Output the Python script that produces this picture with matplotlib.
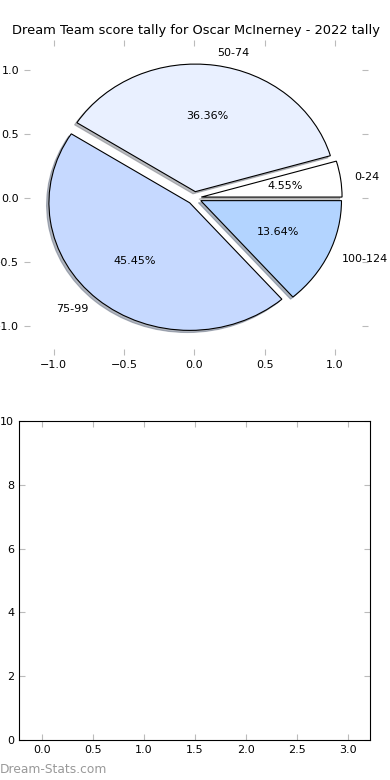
import matplotlib
matplotlib.use("Agg")
import matplotlib.pyplot as plt

# --- data ---------------------------------------------------------------------
labels = ["0-24", "50-74", "75-99", "100-124"]
counts = [1, 8, 10, 3]
colors = ["#ffffff", "#e9f0ff", "#c6d9ff", "#b3d4ff"]
explode = [0.05, 0.05, 0.05, 0.05]
title = "Dream Team score tally for Oscar McInerney - 2022 tally"

# --- figure -------------------------------------------------------------------
fig = plt.figure(figsize=(3.9, 7.8), dpi=100)
ax1 = fig.add_axes([0.0615, 0.545, 0.8825, 0.404])
ax2 = fig.add_axes([0.0487, 0.0513, 0.9003, 0.4089])

wedges, texts, autotexts = ax1.pie(
    counts, labels=labels, colors=colors, explode=explode,
    autopct="%1.2f%%", shadow=dict(ox=-0.012, oy=-0.012, shade=0.5), frame=True,
    wedgeprops=dict(edgecolor="black", linewidth=0.8),
    textprops=dict(fontsize=8))
ax1.set_aspect("auto")
ax1.set_xlim(-1.21, 1.235)
ax1.set_ylim(-1.23, 1.24)
ax1.set_xticks([-1.0, -0.5, 0.0, 0.5, 1.0])
ax1.set_yticks([-1.0, -0.5, 0.0, 0.5, 1.0])
for s in ax1.spines.values():
    s.set_visible(False)
ax1.set_title(title, fontsize=9.4, pad=4)

ax2.set_xlim(-0.225, 3.216)
ax2.set_ylim(0, 10)

for ax in (ax1, ax2):
    ax.tick_params(direction="in", length=4, color="#bbbbbb", labelsize=8,
                   top=True, right=True)

fig.text(0.0, 0.005, "Dream-Stats.com", fontsize=8.8, color="#999999",
         ha="left", va="bottom")

fig.savefig("out.png", dpi=100)
